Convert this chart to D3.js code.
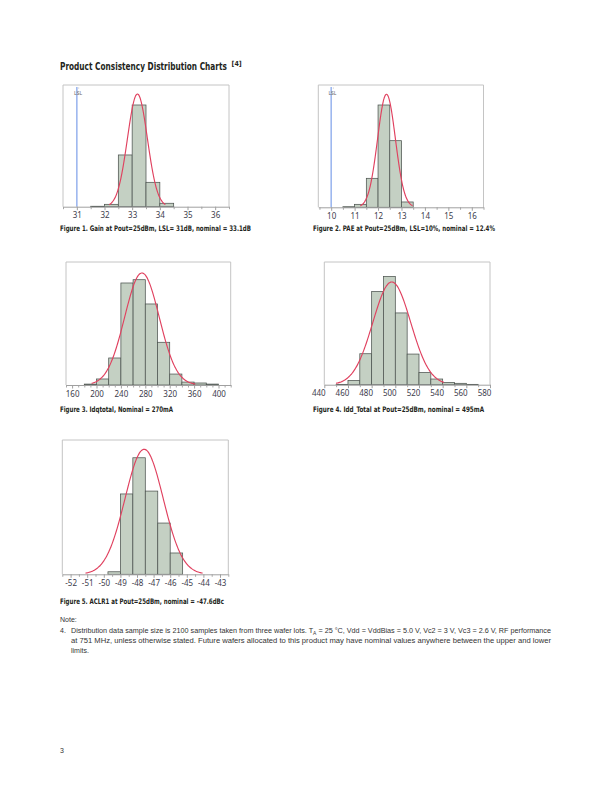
<!DOCTYPE html>
<html><head><meta charset="utf-8">
<script src="https://cdn.jsdelivr.net/npm/d3@7"></script>
<style>body{margin:0;background:#fff}</style>
</head><body>
<svg id="page" width="612" height="792"></svg>
<script>
// ---------- data ----------
// histogram lower bin edges and counts, fitted normal [mean, sd, peakCount, drawFrom, drawTo]
const gainBins   = [31.5, 32, 32.5, 33, 33.5, 34];
const gainCounts = [5, 27, 590, 1160, 278, 39];
const gainFit    = [33.19, 0.36, 1285, 32.17, 34.2];
const gainTicks  = [31, 32, 33, 34, 35, 36];

const paeBins   = [10.5, 11, 11.5, 12, 12.5, 13];
const paeCounts = [6, 30, 294, 1038, 676, 54];
const paeFit    = [12.36, 0.38, 1147, 11.24, 13.47];
const paeTicks  = [10, 11, 12, 13, 14, 15, 16];

const idqBins   = [180, 200, 220, 240, 260, 280, 300, 320, 340, 360, 380];
const idqCounts = [5, 33, 148, 559, 577, 444, 234, 60, 16, 11, 5];
const idqFit    = [274.5, 28.3, 614, 192, 362];
const idqTicks  = [160, 200, 240, 280, 320, 360, 400];

const iddBins   = [450, 460, 470, 480, 490, 500, 510, 520, 530, 540, 550, 560];
const iddCounts = [2, 25, 180, 542, 629, 417, 178, 71, 33, 13, 8, 2];
const iddFit    = [497, 16, 597, 450, 541];
const iddTicks  = [440, 460, 480, 500, 520, 540, 560, 580];

const aclrBins   = [-49.75, -49, -48.25, -47.5, -46.75, -46];
const aclrCounts = [15, 475, 689, 492, 303, 126];
const aclrFit    = [-47.57, 1.15, 739, -51.1, -44.05];
const aclrTicks  = [-52, -51, -50, -49, -48, -47, -46, -45, -44, -43];

const captions = [
  "Figure 1. Gain at Pout=25dBm, LSL= 31dB, nominal = 33.1dB",
  "Figure 2. PAE at Pout=25dBm, LSL=10%, nominal = 12.4%",
  "Figure 3. Idqtotal, Nominal = 270mA",
  "Figure 4. Idd_Total at Pout=25dBm, nominal = 495mA",
  "Figure 5. ACLR1 at Pout=25dBm, nominal = -47.6dBc"
];
const specLimits = [31, 10, null, null, null];

// ---------- layout ----------
const charts = [
  {bins: gainBins, counts: gainCounts, bw: 0.5, fit: gainFit, ticks: gainTicks, minor: 0.5,
   domain: [30.5, 36.5], ymax: 1388, lsl: specLimits[0],
   box: [63, 229, 85, 206.7], cap: [60, 231, 191], labelDx: 0},
  {bins: paeBins, counts: paeCounts, bw: 0.5, fit: paeFit, ticks: paeTicks, minor: 0.5,
   domain: [9.45, 16.5], ymax: 1241, lsl: specLimits[1],
   box: [318.3, 483.5, 85, 207.3], cap: [313, 231, 182], labelDx: 0},
  {bins: idqBins, counts: idqCounts, bw: 20, fit: idqFit, ticks: idqTicks, minor: 10,
   domain: [150, 420], ymax: 674, lsl: specLimits[2],
   box: [66, 230.7, 262, 385], cap: [60, 412, 113], labelDx: 0},
  {bins: iddBins, counts: iddCounts, bw: 10, fit: iddFit, ticks: iddTicks, minor: 10,
   domain: [440, 580], ymax: 713, lsl: specLimits[3],
   box: [324.3, 490, 262, 384.7], cap: [313, 412, 171], labelDx: -6},
  {bins: aclrBins, counts: aclrCounts, bw: 0.75, fit: aclrFit, ticks: aclrTicks, minor: 0.5,
   domain: [-52.5, -42.5], ymax: 794, lsl: specLimits[4],
   box: [62.3, 228.3, 440, 574.3], cap: [60, 604, 164], labelDx: 0}
];

const svg = d3.select("#page");
const condensed = "'Liberation Sans Narrow', 'DejaVu Sans Condensed', 'Roboto Condensed', sans-serif";

// title: horizontally scaled so its real box ends before the superscript
const title = svg.append("text").attr("x", 0).attr("y", 0)
  .attr("font-family", condensed).attr("font-weight", "bold").attr("font-size", 10.5)
  .attr("font-stretch", "condensed").attr("fill", "#231f20")
  .text("Product Consistency Distribution Charts");
const natural = title.node().getComputedTextLength() || 168;
title.attr("transform", `translate(60,70) scale(${167 / natural},1)`);
svg.append("text").attr("x", 231.5).attr("y", 65.5).attr("font-family", condensed)
  .attr("font-weight", "bold").attr("font-size", 7).attr("fill", "#231f20").text("[4]");

charts.forEach((c, i) => {
  const [x0, x1, y0, y1] = c.box;
  const x = d3.scaleLinear().domain(c.domain).range([x0, x1]);
  const y = d3.scaleLinear().domain([0, c.ymax]).range([y1, y0]);
  const g = svg.append("g");

  // frame
  g.append("path").attr("d", `M${x0},${y1}V${y0}H${x1}V${y1}`)
    .attr("fill", "none").attr("stroke", "#c4c4c4").attr("stroke-width", 1);

  // bars
  g.selectAll("rect.bar").data(c.bins).join("rect").attr("class", "bar")
    .attr("x", d => x(d)).attr("width", d => x(d + c.bw) - x(d))
    .attr("y", (d, j) => y(c.counts[j])).attr("height", (d, j) => y(0) - y(c.counts[j]))
    .attr("fill", "#c4d0c3").attr("stroke", "#4d5450").attr("stroke-width", 0.75);

  // spec limit
  if (c.lsl !== null) {
    g.append("line").attr("x1", x(c.lsl)).attr("x2", x(c.lsl)).attr("y1", y0 + 2).attr("y2", y1)
      .attr("stroke", "#9db7ef").attr("stroke-width", 1.6);
    g.append("text").attr("x", x(c.lsl) + 1.2).attr("y", y0 + 10)
      .attr("text-anchor", "middle").attr("font-family", "'Noto Sans', sans-serif")
      .attr("font-size", 5).attr("fill", "#666").text("LSL");
    g.append("circle").attr("cx", x(c.lsl) + 2).attr("cy", y0 + 3).attr("r", 0.4).attr("fill", "#777");
  }

  // fitted normal curve
  const [mu, sd, pk, from, to] = c.fit;
  const n = 160;
  const pts = d3.range(n + 1).map(k => {
    const v = from + (to - from) * k / n;
    return [v, pk * Math.exp(-0.5 * ((v - mu) / sd) ** 2)];
  });
  g.append("path").datum(pts)
    .attr("d", d3.line().x(d => x(d[0])).y(d => y(d[1])).curve(d3.curveMonotoneX))
    .attr("fill", "none").attr("stroke", "#e0415f").attr("stroke-width", 1.15);

  // axis
  const minorVals = d3.range(c.domain[0], c.domain[1] + 1e-9, c.minor)
    .map(v => Math.round((Math.ceil(v / c.minor - 1e-9) * c.minor) * 1000) / 1000)
    .filter(v => v >= c.domain[0] && v <= c.domain[1] && !c.ticks.includes(v));
  const minorAxis = g.append("g").attr("transform", `translate(0,${y1})`)
    .call(d3.axisBottom(x).tickValues(minorVals).tickSize(2.5).tickSizeOuter(0).tickFormat(""));
  minorAxis.select(".domain").remove();
  minorAxis.selectAll("line").attr("stroke", "#a8a8a8");

  const ax = g.append("g").attr("transform", `translate(0,${y1})`)
    .call(d3.axisBottom(x).tickValues(c.ticks).tickSize(3.5).tickSizeOuter(0).tickFormat(d3.format("d")));
  ax.select(".domain").attr("stroke", "#a0a0a0");
  ax.selectAll("line").attr("stroke", "#a0a0a0");
  ax.selectAll("text").attr("y", 6).attr("dx", c.labelDx)
    .attr("font-family", "'Noto Sans', 'Open Sans', sans-serif").attr("font-size", 8)
    .attr("fill", "#3c3c4c").text(d => d < 0 ? "-" + Math.abs(d) : d);

  // caption
  svg.append("text").attr("x", c.cap[0]).attr("y", c.cap[1])
    .attr("font-family", condensed).attr("font-weight", "bold").attr("font-size", 7.6)
    .attr("font-stretch", "condensed").attr("fill", "#231f20")
    .attr("textLength", c.cap[2]).attr("lengthAdjust", "spacingAndGlyphs")
    .text(captions[i]);
});

// notes
const noteFont = "'Liberation Sans', 'Open Sans', sans-serif";
svg.append("text").attr("x", 60).attr("y", 622).attr("font-family", noteFont)
  .attr("font-size", 7).attr("fill", "#333").text("Note:");
svg.append("text").attr("x", 60).attr("y", 633).attr("font-family", noteFont)
  .attr("font-size", 7).attr("fill", "#333").text("4.");
const l1 = svg.append("text").attr("x", 71).attr("y", 633).attr("font-family", noteFont)
  .attr("font-size", 7).attr("fill", "#333");
l1.append("tspan").text("Distribution data sample size is 2100 samples taken from three wafer lots. T");
l1.append("tspan").attr("font-size", 4.8).attr("dy", 1.5).text("A");
l1.append("tspan").attr("dy", -1.5).text(" = 25 °C, Vdd = VddBias = 5.0 V,  Vc2 = 3 V, Vc3 = 2.6 V, RF performance");
l1.attr("textLength", 480).attr("lengthAdjust", "spacingAndGlyphs");
svg.append("text").attr("x", 71).attr("y", 643).attr("font-family", noteFont)
  .attr("font-size", 7).attr("fill", "#333")
  .attr("textLength", 480).attr("lengthAdjust", "spacingAndGlyphs")
  .text("at 751 MHz, unless otherwise stated. Future wafers allocated to this product may have nominal values anywhere between the upper and lower");
svg.append("text").attr("x", 71).attr("y", 652.5).attr("font-family", noteFont)
  .attr("font-size", 7).attr("fill", "#333").text("limits.");

// page number
svg.append("text").attr("x", 60).attr("y", 752.5).attr("font-family", noteFont)
  .attr("font-size", 7).attr("fill", "#333").text("3");
</script>
</body></html>
